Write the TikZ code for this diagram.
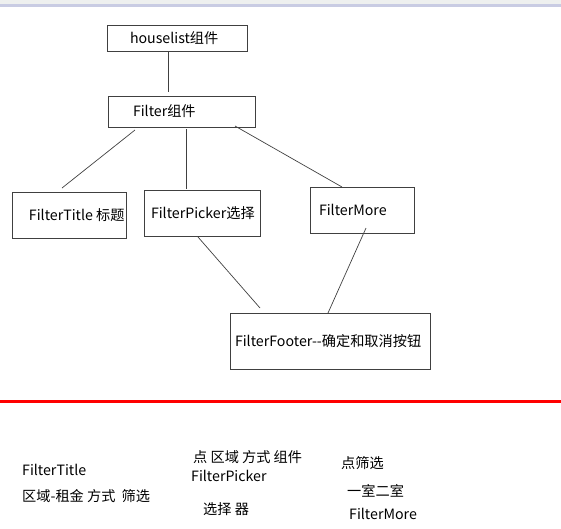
\documentclass[tikz,border=0pt]{standalone}
\usepackage{fontspec}
\setmainfont{Noto Sans CJK SC}
\usetikzlibrary{calc}
\definecolor{topgray}{HTML}{EEF0EF}
\definecolor{toplav}{HTML}{C9CCE3}
\definecolor{redline}{HTML}{FF0000}
\definecolor{edge}{HTML}{404040}
\definecolor{ink}{HTML}{000000}
\newcommand{\boxtext}[3]{\makebox[#1][l]{\hspace*{#2}#3}}
\begin{document}
\begin{tikzpicture}[x=1pt,y=-1pt, font=\fontsize{14.2}{17}\selectfont, text=ink,
 box/.style={draw=edge, line width=0.8pt, inner sep=0pt, outer sep=0pt, anchor=north west},
 link/.style={draw=edge, line width=0.7pt},
 lbl/.style={anchor=west, inner sep=0pt}]
\useasboundingbox (0,0) rectangle (561,528);
\fill[topgray] (0,0) rectangle (561,4);
\fill[toplav] (0,4) rectangle (561,7);
% boxes
\node[box, minimum height=26pt] (house) at (107,25) {\boxtext{140pt}{23pt}{houselist组件}};
\node[box, minimum height=31pt] (filter) at (108,96) {\boxtext{147pt}{25pt}{Filter组件}};
\node[box, minimum height=46pt] (title) at (12,192) {\boxtext{114pt}{17pt}{FilterTitle 标题}};
\node[box, minimum height=46pt] (picker) at (144,190) {\boxtext{116pt}{7pt}{FilterPicker选择}};
\node[box, minimum height=46pt] (more) at (310,187) {\boxtext{104pt}{9pt}{FilterMore}};
\node[box, minimum height=56pt] (footer) at (230,313) {\boxtext{200pt}{5pt}{FilterFooter-{}-确定和取消按钮}};
% connectors
\draw[link] ($(house.south west)+(61,0)$) -- ($(filter.north west)+(60,-4)$);
\draw[link] ($(filter.south west)+(27,3)$) -- ($(title.north west)+(50,-4)$);
\draw[link] ($(filter.south west)+(78,2)$) -- ($(picker.north west)+(42,-1)$);
\draw[link] ($(filter.south west)+(127,-1)$) -- ($(more.north west)+(32,0)$);
\draw[link] ($(picker.south west)+(54,1)$) -- ($(footer.north west)+(30,-5)$);
\draw[link] ($(more.south west)+(56,-5)$) -- ($(footer.north west)+(98,0)$);
% red divider
\draw[redline, line width=3pt] (0,401) -- (561,401);
% bottom notes
\node[lbl] (n1) at (22,470) {FilterTitle};
\node[lbl] (n2) at (22,496) {区域-租金 方式\hspace{3pt} 筛选};
\node[lbl] (n3) at (193,457) {点 区域 方式 组件};
\node[lbl] (n4) at (191,476) {FilterPicker};
\node[lbl] (n5) at (203,509) {选择 器};
\node[lbl] (n6) at (341,463) {点筛选};
\node[lbl] (n7) at (347,491) {一室二室};
\node[lbl] (n8) at (349,514) {FilterMore};
\end{tikzpicture}
\end{document}
